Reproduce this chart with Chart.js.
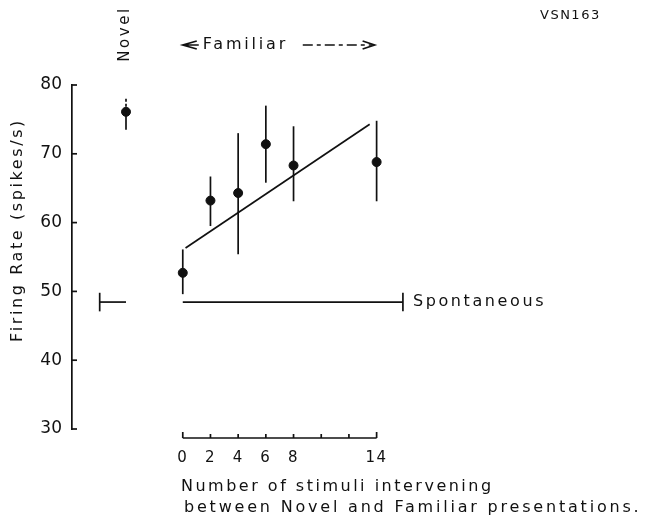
<!DOCTYPE html>
<html>
<head>
<meta charset="utf-8">
<script src="https://cdn.jsdelivr.net/npm/chart.js@4.4.1/dist/chart.umd.min.js"></script>
<style>
  body { margin: 0; background: #fff; }
</style>
</head>
<body>
<canvas id="chart" width="645" height="523"></canvas>
<script>
// familiar presentations: number of stimuli intervening
const intervening = [0, 2, 4, 6, 8, 14];
const familiarRate = [52.7, 63.2, 64.3, 71.4, 68.3, 68.8];
const familiarLow = [49.6, 59.5, 55.4, 65.8, 63.1, 63.1];
const familiarHigh = [56.1, 66.7, 73.0, 77.0, 74.0, 74.8];

// novel presentation (drawn left of the familiar axis)
const novelX = [-4.1];
const novelRate = [76.1];
const novelLow = [73.5];
const novelHigh = [78.2];

// regression line
const fitX = [0.2, 13.5];
const fitY = [56.3, 74.3];

// spontaneous rate
const spontaneousRate = 48.45;
const spontaneousLow = 47.1;
const spontaneousHigh = 49.8;
const spontaneousX = [0, 15.9];
const spontaneousLeftX = [-6, -4.1];

const xTicks = [0, 2, 4, 6, 8, 10, 12, 14];
const xTickLabels = ['0', '2', '4', '6', '8', '', '', '14'];
const yTicks = [30, 40, 50, 60, 70, 80];

const FONT = '"DejaVu Sans", sans-serif';

function text(ctx, str, x, y, size, spacing, align) {
  ctx.save();
  ctx.font = size + 'px ' + FONT;
  ctx.letterSpacing = spacing + 'px';
  ctx.fillStyle = '#111';
  ctx.textAlign = align || 'left';
  ctx.textBaseline = 'middle';
  ctx.fillText(str, x, y);
  ctx.restore();
}

const extras = {
  id: 'extras',
  afterDatasetsDraw(chart) {
    const ctx = chart.ctx;
    const xs = chart.scales.x;
    const ys = chart.scales.y;
    const area = chart.chartArea;
    ctx.save();
    ctx.strokeStyle = '#111';
    ctx.lineWidth = 1.7;

    // error bars
    intervening.forEach((v, i) => {
      const px = xs.getPixelForValue(v);
      ctx.beginPath();
      ctx.moveTo(px, ys.getPixelForValue(familiarLow[i]));
      ctx.lineTo(px, ys.getPixelForValue(familiarHigh[i]));
      ctx.stroke();
    });
    novelX.forEach((v, i) => {
      const px = xs.getPixelForValue(v);
      ctx.beginPath();
      ctx.moveTo(px, ys.getPixelForValue(novelLow[i]));
      ctx.lineTo(px, ys.getPixelForValue(novelRate[i]));
      ctx.stroke();
      ctx.setLineDash([3, 2]);
      ctx.beginPath();
      ctx.moveTo(px, ys.getPixelForValue(novelRate[i]));
      ctx.lineTo(px, ys.getPixelForValue(novelHigh[i]));
      ctx.stroke();
      ctx.setLineDash([]);
    });

    // spontaneous caps
    [spontaneousLeftX[0], spontaneousX[1]].forEach(v => {
      const px = xs.getPixelForValue(v);
      ctx.beginPath();
      ctx.moveTo(px, ys.getPixelForValue(spontaneousLow));
      ctx.lineTo(px, ys.getPixelForValue(spontaneousHigh));
      ctx.stroke();
    });

    // y ticks (inward)
    yTicks.forEach(v => {
      const py = ys.getPixelForValue(v);
      ctx.beginPath();
      ctx.moveTo(area.left, py);
      ctx.lineTo(area.left + 5, py);
      ctx.stroke();
    });

    // x axis under the familiar points
    const baseY = area.bottom + 9;
    const x0 = xs.getPixelForValue(xTicks[0]);
    const x1 = xs.getPixelForValue(xTicks[xTicks.length - 1]);
    ctx.beginPath();
    ctx.moveTo(x0, baseY);
    ctx.lineTo(x1, baseY);
    ctx.stroke();
    xTicks.forEach((v, i) => {
      const px = xs.getPixelForValue(v);
      ctx.beginPath();
      ctx.moveTo(px, baseY);
      ctx.lineTo(px, baseY - (i === 0 || i === xTicks.length - 1 ? 6 : 4));
      ctx.stroke();
      if (xTickLabels[i]) text(ctx, xTickLabels[i], px, baseY + 20, 15, 1.5, 'center');
    });

    // Familiar arrow
    const ay = 45;
    ctx.beginPath();
    ctx.moveTo(x0 + 14, ay - 4);
    ctx.lineTo(x0, ay);
    ctx.lineTo(x0 + 14, ay + 4);
    ctx.moveTo(x0, ay);
    ctx.lineTo(x0 + 16, ay);
    ctx.stroke();
    text(ctx, 'Familiar', x0 + 20, ay, 16, 2.8);
    ctx.setLineDash([10, 4, 4, 4]);
    ctx.beginPath();
    ctx.moveTo(x0 + 120, ay);
    ctx.lineTo(x1 - 4, ay);
    ctx.stroke();
    ctx.setLineDash([]);
    ctx.beginPath();
    ctx.moveTo(x1 - 14, ay - 4);
    ctx.lineTo(x1 - 2, ay);
    ctx.lineTo(x1 - 14, ay + 4);
    ctx.stroke();
    ctx.restore();

    // labels
    text(ctx, 'VSN163', 540, 16, 13, 1.5);
    text(ctx, 'Spontaneous', xs.getPixelForValue(spontaneousX[1]) + 10, ys.getPixelForValue(spontaneousRate), 16, 2.6);
    text(ctx, 'Number of stimuli intervening', 181, 487, 16, 2.5);
    text(ctx, 'between Novel and Familiar presentations.', 184, 508, 16, 2.8);

    ctx.save();
    ctx.translate(125, 34);
    ctx.rotate(-Math.PI / 2);
    text(ctx, 'Novel', 0, 0, 15, 2.6, 'center');
    ctx.restore();

    ctx.save();
    ctx.translate(18, 230);
    ctx.rotate(-Math.PI / 2);
    text(ctx, 'Firing Rate (spikes/s)', 0, 0, 16, 2.6, 'center');
    ctx.restore();
  }
};

const lineStyle = {
  borderColor: '#111',
  borderWidth: 1.7,
  pointRadius: 0,
  showLine: true,
  fill: false
};

new Chart(document.getElementById('chart'), {
  type: 'scatter',
  data: {
    datasets: [
      {
        label: 'Familiar',
        data: intervening.map((x, i) => ({ x, y: familiarRate[i] })),
        backgroundColor: '#111',
        borderColor: '#111',
        pointRadius: 4.5
      },
      {
        label: 'Novel',
        data: novelX.map((x, i) => ({ x, y: novelRate[i] })),
        backgroundColor: '#111',
        borderColor: '#111',
        pointRadius: 4.5
      },
      Object.assign({ label: 'Fit', data: fitX.map((x, i) => ({ x, y: fitY[i] })) }, lineStyle),
      Object.assign({ label: 'Spontaneous', data: spontaneousX.map(x => ({ x, y: spontaneousRate })) }, lineStyle),
      Object.assign({ label: 'Spontaneous (novel)', data: spontaneousLeftX.map(x => ({ x, y: spontaneousRate })) }, lineStyle)
    ]
  },
  options: {
    responsive: false,
    animation: false,
    layout: { padding: { left: 0, top: 85, right: 213, bottom: 94 } },
    plugins: { legend: { display: false }, tooltip: { enabled: false } },
    scales: {
      x: { type: 'linear', min: -8, max: 18, display: false },
      y: {
        min: 30,
        max: 80,
        afterFit(scale) { scale.width = 72; },
        grid: { display: false, drawTicks: false },
        border: { display: true, color: '#111', width: 1.7 },
        ticks: {
          stepSize: 10,
          padding: 10,
          color: '#111',
          font: { family: FONT, size: 17 }
        }
      }
    }
  },
  plugins: [extras]
});
</script>
</body>
</html>
